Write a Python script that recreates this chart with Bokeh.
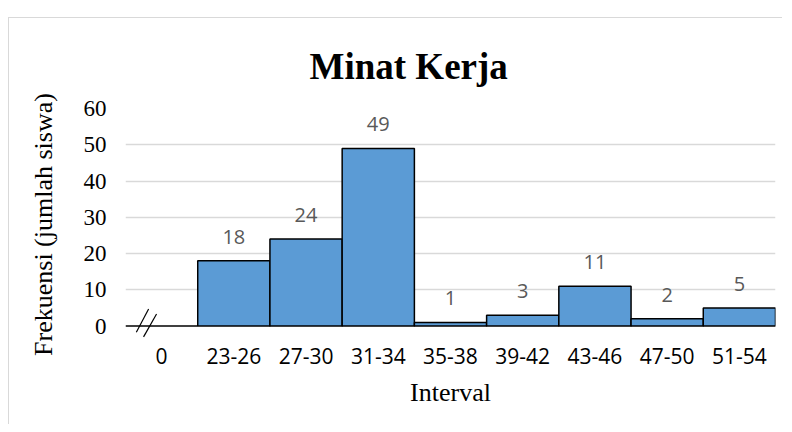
from bokeh.plotting import figure
from bokeh.models import FactorRange, Range1d, FixedTicker, ColumnDataSource
from bokeh.core.properties import value
from bokeh.embed import file_html
from bokeh.resources import INLINE

categories = ["0", "23-26", "27-30", "31-34", "35-38", "39-42", "43-46", "47-50", "51-54"]
intervals = ["23-26", "27-30", "31-34", "35-38", "39-42", "43-46", "47-50", "51-54"]
frequencies = [18, 24, 49, 1, 3, 11, 2, 5]
y_ticks = [0, 10, 20, 30, 40, 50, 60]

src = ColumnDataSource(dict(x=intervals, top=frequencies, lbl=[str(v) for v in frequencies]))

p = figure(x_range=FactorRange(*categories, range_padding=0), y_range=Range1d(-4, 60),
           width=774, height=407, output_backend="svg", toolbar_location=None,
           min_border_left=116, min_border_right=8, min_border_top=90, min_border_bottom=85)
p.margin = (17, 0, 0, 8)
p.styles = {"border-left": "1px solid #d9d9d9", "border-top": "1px solid #d9d9d9"}
p.outline_line_color = None

p.title.text = "Minat Kerja"
p.title.text_font = "Liberation Serif"
p.title.text_font_size = "37px"
p.title.text_font_style = "bold"
p.title.text_color = "black"
p.title.align = "left"
p.title.offset = 184
p.title.vertical_align = "top"
p.title.standoff = 40

p.vbar(x="x", top="top", bottom=0, width=1.0, source=src,
       fill_color="#5B9BD5", line_color="black", line_width=1.5)
p.text(x="x", y="top", text="lbl", source=src, text_align="center", text_baseline="bottom",
       y_offset=-17, text_font=value("Open Sans"), text_font_size="20px", text_color="#595959")

# baseline and axis break
p.segment(x0=[("0", -0.5)], y0=[0], x1=[("23-26", -0.5)], y1=[0], line_color="black", line_width=1.5)
p.segment(x0=[("0", -0.35), ("0", -0.25)], y0=[-1.7, -3.0], x1=[("0", -0.18), ("0", -0.07)], y1=[4.7, 3.3],
          line_color="black", line_width=1.2)

p.yaxis.ticker = FixedTicker(ticks=y_ticks)
p.ygrid.ticker = FixedTicker(ticks=y_ticks[1:])
p.ygrid.grid_line_color = "#d9d9d9"
p.ygrid.grid_line_width = 1.5
p.xgrid.grid_line_color = None

p.yaxis.axis_line_color = None
p.yaxis.major_tick_line_color = None
p.yaxis.minor_tick_line_color = None
p.yaxis.major_label_standoff = 13
p.yaxis.major_label_text_font = "Liberation Serif"
p.yaxis.major_label_text_font_size = "23px"
p.yaxis.major_label_text_color = "black"
p.yaxis.axis_label = "Frekuensi (jumlah siswa)"
p.yaxis.axis_label_text_font = "Liberation Serif"
p.yaxis.axis_label_text_font_size = "26px"
p.yaxis.axis_label_text_font_style = "normal"
p.yaxis.axis_label_text_color = "black"
p.yaxis.axis_label_standoff = 23

p.xaxis.axis_line_color = None
p.xaxis.major_tick_line_color = None
p.xaxis.minor_tick_line_color = None
p.xaxis.major_label_standoff = 1
p.xaxis.major_label_text_font = "Open Sans"
p.xaxis.major_label_text_font_size = "21px"
p.xaxis.major_label_text_color = "black"
p.xaxis.axis_label = "Interval"
p.xaxis.axis_label_text_font = "Liberation Serif"
p.xaxis.axis_label_text_font_size = "26px"
p.xaxis.axis_label_text_font_style = "normal"
p.xaxis.axis_label_text_color = "black"
p.xaxis.axis_label_standoff = 11

open("out.html", "w").write(file_html(p, INLINE))
